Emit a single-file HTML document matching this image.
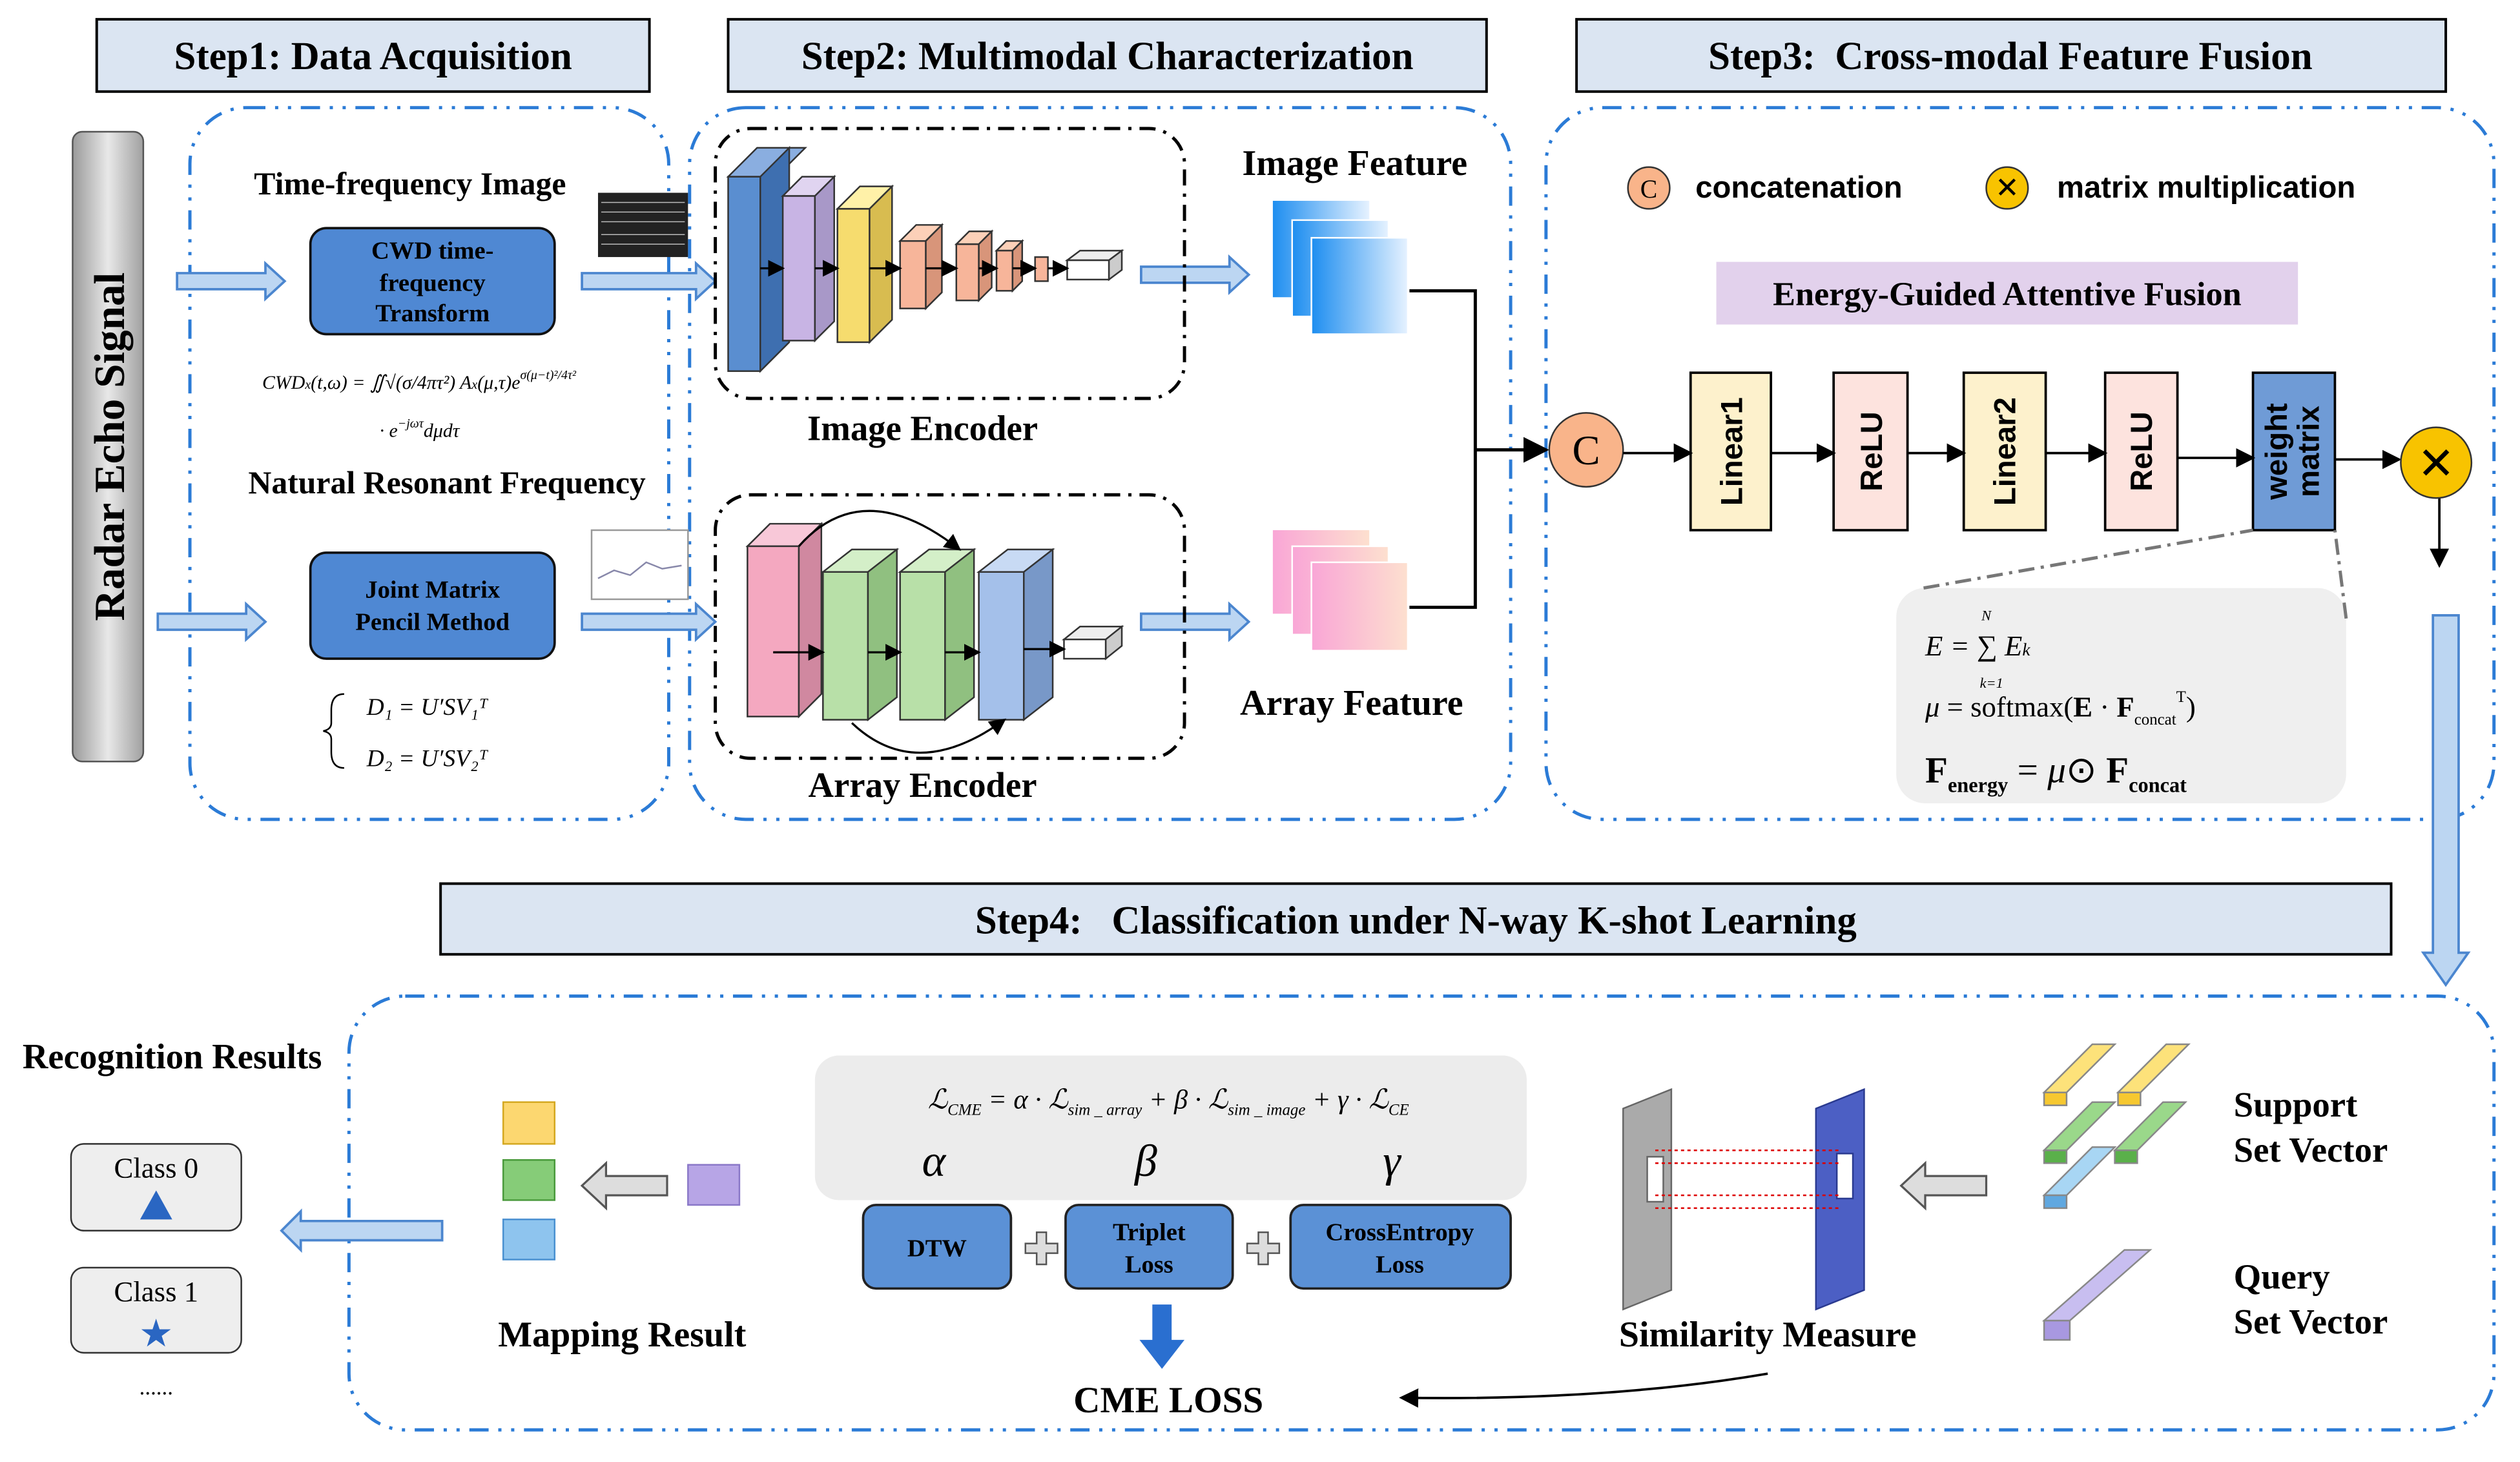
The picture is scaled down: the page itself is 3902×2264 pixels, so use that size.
<!DOCTYPE html>
<html><head><meta charset="utf-8"><style>
html,body{margin:0;padding:0;background:#fff;}
svg{display:block;}
text{font-family:"Liberation Serif",serif;white-space:pre;}
.s,.s text{font-family:"Liberation Sans",sans-serif;}
</style></head><body>
<svg width="3902" height="2264" viewBox="0 0 1568 910" xmlns="http://www.w3.org/2000/svg">
<defs>
<linearGradient id="gr" x1="0" x2="1"><stop offset="0" stop-color="#9a9a9a"/><stop offset=".5" stop-color="#e8e8e8"/><stop offset="1" stop-color="#a0a0a0"/></linearGradient>
<linearGradient id="bl" x1="0" x2="1"><stop offset="0" stop-color="#1e8ef0"/><stop offset="1" stop-color="#e6f2ff"/></linearGradient>
<linearGradient id="pk" x1="0" x2="1"><stop offset="0" stop-color="#f9a6d6"/><stop offset="1" stop-color="#fde0cf"/></linearGradient>
<marker id="ah" markerWidth="8" markerHeight="8" refX="7" refY="4" orient="auto"><path d="M0,0 L8,4 L0,8z" fill="#000"/></marker>
</defs>
<g stroke="#000" stroke-width="1.6" fill="#dbe5f2">
<rect x="60" y="12" width="344" height="45"/>
<rect x="453" y="12" width="472" height="45"/>
<rect x="981" y="12" width="541" height="45"/>
<rect x="274" y="550" width="1214" height="44"/>
</g>
<g font-size="24.5" text-anchor="middle" font-weight="bold">
<text x="232" y="43">Step1: Data Acquisition</text>
<text x="689" y="43">Step2: Multimodal Characterization</text>
<text x="1251" y="43">Step3:  Cross-modal Feature Fusion</text>
<text x="881" y="581">Step4:   Classification under N-way K-shot Learning</text>
</g>
<g fill="none" stroke="#2b7bd6" stroke-width="2" stroke-dasharray="12 6 2 6 2 6">
<rect x="118" y="67" width="298" height="443" rx="35"/>
<rect x="429" y="67" width="511" height="443" rx="35"/>
<rect x="962" y="67" width="590" height="443" rx="35"/>
<rect x="217" y="620" width="1335" height="270" rx="35"/>
</g>
<rect x="45" y="82" width="44" height="392" rx="6" fill="url(#gr)" stroke="#555"/>
<text transform="translate(77,278) rotate(-90)" font-size="27" font-weight="bold" text-anchor="middle">Radar Echo Signal</text>
<g fill="#bcd6f2" stroke="#4b86cf" stroke-width="1.5">
<path d="M110,170 h55 v-6 l12,11 l-12,11 v-6 h-55z"/>
<path d="M98,382 h55 v-6 l12,11 l-12,11 v-6 h-55z"/>
<path d="M362,170 h71 v-6 l12,11 l-12,11 v-6 h-71z"/>
<path d="M362,382 h71 v-6 l12,11 l-12,11 v-6 h-71z"/>
<path d="M710,166 h55 v-6 l12,11 l-12,11 v-6 h-55z"/>
<path d="M710,382 h55 v-6 l12,11 l-12,11 v-6 h-55z"/>
<path d="M1514,383 h16 v210 h6 l-14,20 l-14,-20 h6z"/>
<path d="M275,760 h-88 v-6 l-12,12 l12,12 v-6 h88z"/>
</g>
<g font-weight="bold" text-anchor="middle">
<text x="255" y="121" font-size="20">Time-frequency Image</text>
<text x="278" y="307" font-size="20">Natural Resonant Frequency</text>
</g>
<rect x="193" y="142" width="152" height="66" rx="10" fill="#4f88d3" stroke="#111" stroke-width="1.5"/>
<text x="269" y="161" font-size="15.5" font-weight="bold" text-anchor="middle">CWD time-</text>
<text x="269" y="181" font-size="15.5" font-weight="bold" text-anchor="middle">frequency</text>
<text x="269" y="200" font-size="15.5" font-weight="bold" text-anchor="middle">Transform</text>
<rect x="193" y="344" width="152" height="66" rx="10" fill="#4f88d3" stroke="#111" stroke-width="1.5"/>
<text x="269" y="372" font-size="15.5" font-weight="bold" text-anchor="middle">Joint Matrix</text>
<text x="269" y="392" font-size="15.5" font-weight="bold" text-anchor="middle">Pencil Method</text>
<text x="163" y="242" font-size="12" font-style="italic">CWD<tspan font-size="8">x</tspan>(t,ω) = ∬√(σ/4πτ²) A<tspan font-size="8">x</tspan>(μ,τ)e<tspan font-size="8" dy="-6">σ(μ−t)²/4τ²</tspan></text>
<text x="236" y="272" font-size="12" font-style="italic">· e<tspan font-size="8" dy="-6">−jωτ</tspan><tspan dy="6">dμdτ</tspan></text>
<path d="M214,432 q-8,0 -8,10 v8 q0,4 -5,5 q5,1 5,5 v8 q0,10 8,10" fill="none" stroke="#000"/>
<text x="228" y="445" font-size="15" font-style="italic">D₁ = U′SV₁ᵀ</text>
<text x="228" y="477" font-size="15" font-style="italic">D₂ = U′SV₂ᵀ</text>
<rect x="372" y="120" width="56" height="40" fill="#222"/>
<g stroke="#bbb" stroke-width="0.6"><path d="M374,126h52M374,132h52M374,138h52M374,146h52M374,152h52"/></g>
<rect x="368" y="330" width="60" height="43" fill="#fff" stroke="#999"/>
<path d="M372,360 l10,-5 l10,3 l10,-8 l10,4 l12,-2" fill="none" stroke="#88a"/>
<g fill="none" stroke="#000" stroke-width="2" stroke-dasharray="10 5 2 5">
<rect x="445" y="80" width="292" height="168" rx="22"/>
<rect x="445" y="308" width="292" height="164" rx="22"/>
</g>
<g stroke="#333" stroke-width="1">
<path d="M453,110 l18,-18 h30 l-18,18z" fill="#8aaee0"/><rect x="453" y="110" width="20" height="121" fill="#5a8ed0"/><path d="M473,110 l18,-18 v121 l-18,18z" fill="#3e6fb0"/>
<path d="M487,122 l12,-12 h20 l-12,12z" fill="#e0d4f0"/><rect x="487" y="122" width="20" height="90" fill="#c8b4e4"/><path d="M507,122 l12,-12 v90 l-12,12z" fill="#a898c8"/>
<path d="M521,130 l14,-14 h20 l-14,14z" fill="#fff1a8"/><rect x="521" y="130" width="20" height="83" fill="#f6dc6e"/><path d="M541,130 l14,-14 v83 l-14,14z" fill="#d8bc50"/>
<path d="M560,150 l10,-10 h16 l-10,10z" fill="#fcd0b8"/><rect x="560" y="150" width="16" height="42" fill="#f7b59a"/><path d="M576,150 l10,-10 v42 l-10,10z" fill="#d8957a"/>
<path d="M595,152 l8,-8 h14 l-8,8z" fill="#fcd0b8"/><rect x="595" y="152" width="14" height="35" fill="#f7b59a"/><path d="M609,152 l8,-8 v35 l-8,8z" fill="#d8957a"/>
<path d="M620,156 l6,-6 h10 l-6,6z" fill="#fcd0b8"/><rect x="620" y="156" width="10" height="25" fill="#f7b59a"/><path d="M630,156 l6,-6 v25 l-6,6z" fill="#d8957a"/>
<rect x="644" y="160" width="8" height="15" fill="#f7b59a"/>
<path d="M664,162 l8,-6 h26 l-8,6z" fill="#eee"/><rect x="664" y="162" width="26" height="12" fill="#fff"/><path d="M690,162 l8,-6 v12 l-8,6z" fill="#ccc"/>
<path d="M465,340 l14,-14 h32 l-14,14z" fill="#f8c8d8"/><rect x="465" y="340" width="32" height="106" fill="#f4a8c0"/><path d="M497,340 l14,-14 v106 l-14,14z" fill="#d088a0"/>
<path d="M512,356 l18,-14 h28 l-18,14z" fill="#d4efc8"/><rect x="512" y="356" width="28" height="92" fill="#b8e0a8"/><path d="M540,356 l18,-14 v92 l-18,14z" fill="#90c080"/>
<path d="M560,356 l18,-14 h28 l-18,14z" fill="#d4efc8"/><rect x="560" y="356" width="28" height="92" fill="#b8e0a8"/><path d="M588,356 l18,-14 v92 l-18,14z" fill="#90c080"/>
<path d="M609,356 l18,-14 h28 l-18,14z" fill="#c8daf4"/><rect x="609" y="356" width="28" height="92" fill="#a4c0ea"/><path d="M637,356 l18,-14 v92 l-18,14z" fill="#7898c8"/>
<path d="M662,398 l10,-8 h26 l-10,8z" fill="#eee"/><rect x="662" y="398" width="26" height="12" fill="#fff"/><path d="M688,398 l10,-8 v12 l-10,8z" fill="#ccc"/>
</g>
<g stroke="#000" stroke-width="1.3" fill="none" marker-end="url(#ah)">
<path d="M473,167 h14"/><path d="M507,167 h14"/><path d="M541,167 h19"/><path d="M576,167 h19"/><path d="M609,167 h11"/><path d="M630,167 h14"/><path d="M652,167 h12"/>
<path d="M481,406 h31"/><path d="M540,406 h20"/><path d="M588,406 h21"/><path d="M637,404 h25"/>
<path d="M497,340 q40,-45 100,2"/><path d="M530,450 q40,38 95,-2"/>
</g>
<text x="574" y="274" font-size="22" font-weight="bold" text-anchor="middle">Image Encoder</text>
<text x="574" y="496" font-size="22" font-weight="bold" text-anchor="middle">Array Encoder</text>
<text x="843" y="109" font-size="22.5" font-weight="bold" text-anchor="middle">Image Feature</text>
<text x="841" y="445" font-size="22.5" font-weight="bold" text-anchor="middle">Array Feature</text>
<rect x="792" y="125" width="60" height="60" fill="url(#bl)"/><rect x="804" y="137" width="60" height="60" fill="url(#bl)" stroke="#fff"/><rect x="816" y="148" width="60" height="60" fill="url(#bl)" stroke="#fff"/>
<rect x="792" y="330" width="60" height="52" fill="url(#pk)"/><rect x="804" y="340" width="60" height="55" fill="url(#pk)" stroke="#fff"/><rect x="816" y="350" width="60" height="55" fill="url(#pk)" stroke="#fff"/>
<path d="M877,181 H918 V378 H877" fill="none" stroke="#000" stroke-width="2"/>
<path d="M918,280 H962" stroke="#000" stroke-width="2" marker-end="url(#ah)"/>
<circle cx="987" cy="280" r="23" fill="#f9b48a" stroke="#333"/>
<text x="987" y="289" font-size="26" text-anchor="middle">C</text>
<circle cx="1026" cy="117" r="13" fill="#f9b48a" stroke="#333"/><text x="1026" y="123" font-size="16" text-anchor="middle">C</text>
<text x="1055" y="123" font-size="19" class="s" font-weight="bold">concatenation</text>
<circle cx="1249" cy="117" r="13" fill="#f8c300" stroke="#333"/><text x="1249" y="123" font-size="18" text-anchor="middle">✕</text>
<text x="1280" y="123" font-size="19" class="s" font-weight="bold">matrix multiplication</text>
<rect x="1068" y="163" width="362" height="39" fill="#e2d1ec"/>
<text x="1249" y="190" font-size="21" font-weight="bold" text-anchor="middle">Energy-Guided Attentive Fusion</text>
<g stroke="#000" stroke-width="1.5">
<rect x="1052" y="232" width="50" height="98" fill="#fdf1cc"/>
<rect x="1141" y="232" width="46" height="98" fill="#fde3de"/>
<rect x="1222" y="232" width="51" height="98" fill="#fdf1cc"/>
<rect x="1310" y="232" width="45" height="98" fill="#fde3de"/>
<rect x="1402" y="232" width="51" height="98" fill="#6f9bd6"/>
</g>
<g font-size="19" class="s" font-weight="bold" text-anchor="middle">
<text transform="translate(1084,281) rotate(-90)">Linear1</text>
<text transform="translate(1171,281) rotate(-90)">ReLU</text>
<text transform="translate(1254,281) rotate(-90)">Linear2</text>
<text transform="translate(1339,281) rotate(-90)">ReLU</text>
<text transform="translate(1423,281) rotate(-90)">weight</text>
<text transform="translate(1443,281) rotate(-90)">matrix</text>
</g>
<g stroke="#000" stroke-width="1.5" marker-end="url(#ah)">
<path d="M1010,282 h42"/><path d="M1102,282 h39"/><path d="M1187,282 h35"/><path d="M1273,282 h37"/><path d="M1355,285 h47"/><path d="M1453,286 h40"/><path d="M1518,310 v42"/>
</g>
<circle cx="1516" cy="288" r="22" fill="#f8c300" stroke="#333"/>
<text x="1516" y="298" font-size="28" text-anchor="middle">✕</text>
<rect x="1180" y="366" width="280" height="134" rx="18" fill="#efefef"/>
<path d="M1197,366 L1402,330 M1460,385 L1453,330" stroke="#777" stroke-width="2" stroke-dasharray="10 4 2 4" fill="none"/>
<text x="1198" y="408" font-size="18" font-style="italic">E = ∑ E<tspan font-size="11">k</tspan></text>
<text x="1233" y="386" font-size="9" font-style="italic">N</text><text x="1232" y="428" font-size="9" font-style="italic">k=1</text>
<text x="1198" y="446" font-size="18"><tspan font-style="italic">μ</tspan> = softmax(<tspan font-weight="bold">E</tspan> · <tspan font-weight="bold">F</tspan><tspan font-size="10" dy="5">concat</tspan><tspan font-size="10" dy="-14">T</tspan><tspan dy="9">)</tspan></text>
<text x="1198" y="487" font-size="23" font-weight="bold">F<tspan font-size="13" dy="6">energy</tspan><tspan dy="-6" font-weight="normal"> = </tspan><tspan font-style="italic" font-weight="normal">μ</tspan><tspan font-weight="normal">⊙ </tspan>F<tspan font-size="13" dy="6">concat</tspan></text>
<text x="107" y="665" font-size="22" font-weight="bold" text-anchor="middle">Recognition Results</text>
<rect x="44" y="712" width="106" height="54" rx="8" fill="#eee" stroke="#333"/>
<text x="97" y="733" font-size="18" text-anchor="middle">Class 0</text>
<path d="M97,741 l10,18 h-20z" fill="#2a66c2"/>
<rect x="44" y="789" width="106" height="53" rx="8" fill="#eee" stroke="#333"/>
<text x="97" y="810" font-size="18" text-anchor="middle">Class 1</text>
<text x="97" y="838" font-size="24" fill="#2a66c2" text-anchor="middle">★</text>
<text x="97" y="868" font-size="14" text-anchor="middle">......</text>
<rect x="313" y="686" width="32" height="26" fill="#fcd770" stroke="#d4a820"/>
<rect x="313" y="722" width="32" height="25" fill="#86cc78" stroke="#4a9a3c"/>
<rect x="313" y="759" width="32" height="25" fill="#8ec4ee" stroke="#4a90d0"/>
<rect x="428" y="725" width="32" height="25" fill="#b7a5e6" stroke="#8a78c8"/>
<g fill="#ddd" stroke="#555" stroke-width="1.3">
<path d="M415,732 h-38 v-8 l-15,14 l15,14 v-8 h38z"/>
<path d="M1236,732 h-38 v-8 l-15,14 l15,14 v-8 h38z"/>
</g>
<text x="387" y="838" font-size="22.5" font-weight="bold" text-anchor="middle">Mapping Result</text>
<rect x="507" y="657" width="443" height="90" rx="15" fill="#ececec"/>
<text x="727" y="690" font-size="17" font-style="italic" text-anchor="middle">ℒ<tspan font-size="10" dy="4">CME</tspan><tspan dy="-4"> = α · ℒ</tspan><tspan font-size="10" dy="4">sim _ array</tspan><tspan dy="-4"> + β · ℒ</tspan><tspan font-size="10" dy="4">sim _ image</tspan><tspan dy="-4"> + γ · ℒ</tspan><tspan font-size="10" dy="4">CE</tspan></text>
<g font-size="28" font-style="italic" text-anchor="middle"><text x="581" y="732">α</text><text x="713" y="732">β</text><text x="866" y="732">γ</text></g>
<g fill="#5b91d6" stroke="#222" stroke-width="1.5">
<rect x="537" y="750" width="92" height="52" rx="8"/>
<rect x="663" y="750" width="104" height="52" rx="8"/>
<rect x="803" y="750" width="137" height="52" rx="8"/>
</g>
<g font-size="15.5" font-weight="bold" text-anchor="middle">
<text x="583" y="782">DTW</text>
<text x="715" y="772">Triplet</text><text x="715" y="792">Loss</text>
<text x="871" y="772">CrossEntropy</text><text x="871" y="792">Loss</text>
</g>
<g fill="#ddd" stroke="#555"><path d="M645,767 h6 v7 h7 v6 h-7 v7 h-6 v-7 h-7 v-6 h7z"/><path d="M783,767 h6 v7 h7 v6 h-7 v7 h-6 v-7 h-7 v-6 h7z"/></g>
<path d="M717,812 h12 v22 h8 l-14,18 l-14,-18 h8z" fill="#2a6fd0"/>
<text x="727" y="879" font-size="23" font-weight="bold" text-anchor="middle">CME LOSS</text>
<path d="M1100,855 Q1000,872 872,870" fill="none" stroke="#000" stroke-width="1.5" marker-end="url(#ah)"/>
<path d="M1010,690 l30,-12 v125 l-30,12z" fill="#aaa" stroke="#666"/>
<rect x="1025" y="720" width="10" height="28" fill="#fff" stroke="#666"/>
<path d="M1130,690 l30,-12 v125 l-30,12z" fill="#4c5fc4" stroke="#2a3a90"/>
<rect x="1143" y="718" width="10" height="28" fill="#fff" stroke="#2a3a90"/>
<g stroke="#d00" stroke-dasharray="2 2"><path d="M1030,716 h115 M1030,724 h115 M1030,744 h115 M1030,752 h115"/></g>
<text x="1100" y="838" font-size="22.5" font-weight="bold" text-anchor="middle">Similarity Measure</text>
<g stroke="#888" stroke-width="1">
<path d="M1272,680 l30,-30 h14 l-30,30z" fill="#fde27a"/><rect x="1272" y="680" width="14" height="8" fill="#f6c830"/>
<path d="M1318,680 l30,-30 h14 l-30,30z" fill="#fde27a"/><rect x="1318" y="680" width="14" height="8" fill="#f6c830"/>
<path d="M1272,716 l30,-30 h14 l-30,30z" fill="#9ad88a"/><rect x="1272" y="716" width="14" height="8" fill="#5ab04a"/>
<path d="M1316,716 l30,-30 h14 l-30,30z" fill="#9ad88a"/><rect x="1316" y="716" width="14" height="8" fill="#5ab04a"/>
<path d="M1272,744 l30,-30 h14 l-30,30z" fill="#a8d6f4"/><rect x="1272" y="744" width="14" height="8" fill="#60a8e0"/>
<path d="M1272,822 l50,-44 h16 l-50,44z" fill="#c8bef0"/><rect x="1272" y="822" width="16" height="12" fill="#a898e0"/>
</g>
<g font-size="22" font-weight="bold">
<text x="1390" y="695">Support</text><text x="1390" y="723">Set Vector</text>
<text x="1390" y="802">Query</text><text x="1390" y="830">Set Vector</text>
</g>
</svg>
</body></html>
